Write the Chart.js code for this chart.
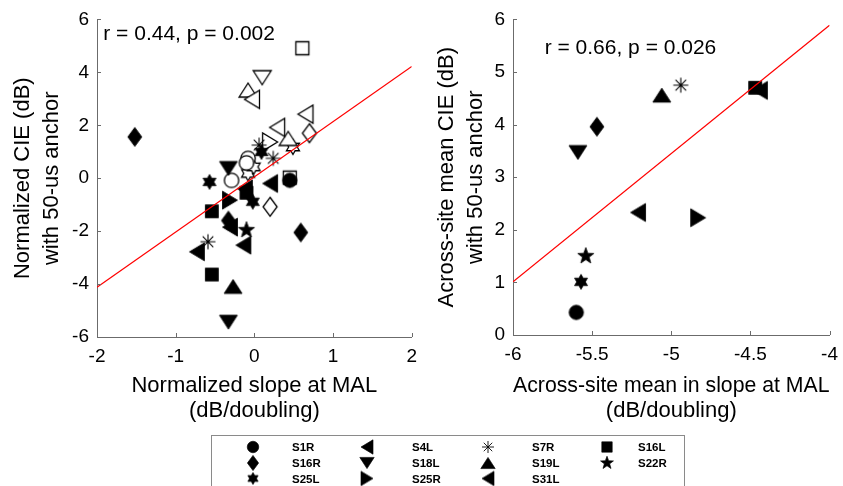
<!DOCTYPE html>
<html>
<head>
<meta charset="utf-8">
<script src="https://cdn.jsdelivr.net/npm/chart.js@4"></script>
<style>
  body { margin: 0; background: #fff; width: 843px; height: 486px; overflow: hidden; position: relative;
         font-family: "Liberation Sans", Arial, sans-serif; }
  #left { position: absolute; left: 0; top: 0; }
  #right { position: absolute; left: 420px; top: 0; }
  #legend { position: absolute; left: 211px; top: 435px; width: 474px; height: 70px; }
  #legendFrame { position: absolute; left: 0; top: 0; width: 474px; height: 70px; box-sizing: border-box;
                 border: 1.5px solid #8a8a8a; }
  #legendMarks { position: absolute; left: 0; top: 0; }
  .lab { position: absolute; font-weight: bold; font-size: 11.5px; line-height: 14px; color: #000; }
</style>
</head>
<body>
<canvas id="left" width="425" height="430"></canvas>
<canvas id="right" width="426" height="430"></canvas>
<div id="legend">
  <div id="legendFrame"></div>
  <canvas id="legendMarks" width="474" height="70"></canvas>
</div>
<script>
// subjects (legend order)
const subjects = ['S1R', 'S4L', 'S7R', 'S16L', 'S16R', 'S18L', 'S19L', 'S22R', 'S25L', 'S25R', 'S31L'];

// left panel: individual sites, filled markers
const siteSubject = ['S1R', 'S4L', 'S4L', 'S4L', 'S31L', 'S31L', 'S7R', 'S7R', 'S7R', 'S16L', 'S16L', 'S16L',
                     'S16R', 'S16R', 'S16R', 'S18L', 'S18L', 'S19L', 'S22R', 'S25L', 'S25L', 'S25L', 'S25R'];
const siteSlope = [0.45, 0.20, -0.14, -0.73, -0.12, -0.31, 0.06, 0.24, -0.59, -0.54, -0.54, -0.10,
                   -1.52, 0.59, -0.33, -0.33, -0.33, -0.27, -0.10, -0.57, -0.02, 0.09, -0.31];
const siteCIE = [-0.08, -0.20, -2.53, -2.78, -0.40, -1.85, 1.25, 0.75, -2.40, -1.25, -3.64, -0.55,
                 1.56, -2.05, -1.60, 0.37, -5.44, -4.09, -1.96, -0.14, -0.89, 0.99, -0.83];

// left panel: open markers
const openSubject = ['S16L', 'S16L', 'S18L', 'S19L', 'S19L', 'S4L', 'S4L', 'S31L', 'S16R', 'S16R', 'S25R',
                     'S25L', 'S25L', 'S25L', 'S1R', 'S1R', 'S1R'];
const openSlope = [0.61, 0.45, 0.10, -0.08, 0.43, -0.03, 0.29, 0.65, 0.70, 0.20, 0.20,
                   0.49, -0.08, -0.01, -0.08, -0.10, -0.29];
const openCIE = [4.91, 0.02, 3.80, 3.33, 1.50, 2.98, 1.92, 2.42, 1.70, -1.08, 1.37,
                 1.18, 0.18, 0.43, 0.75, 0.58, -0.08];

// right panel: across-site means, one per subject
const meanSlope = [-5.60, -5.21, -4.94, -4.47, -5.47, -5.59, -5.06, -5.54, -5.57, -4.83, -4.44];
const meanCIE = [0.43, 2.33, 4.75, 4.70, 3.96, 3.47, 4.56, 1.50, 1.01, 2.23, 4.65];

// regression lines
const fitLeftX = [-2, 2];
const fitLeftY = [-4.12, 4.22];
const fitRightX = [-6, -4];
const fitRightY = [1.01, 5.89];

// ticks
const leftXTicks = [-2, -1, 0, 1, 2];
const leftYTicks = [-6, -4, -2, 0, 2, 4, 6];
const rightXTicks = [-6, -5.5, -5, -4.5, -4];
const rightYTicks = [0, 1, 2, 3, 4, 5, 6];

const statLeft = 'r = 0.44, p = 0.002';
const statRight = 'r = 0.66, p = 0.026';

const shapeOf = { S1R: 'circle', S4L: 'triLeft', S7R: 'asterisk', S16L: 'square', S16R: 'diamond',
                  S18L: 'triDown', S19L: 'triUp', S22R: 'star5', S25L: 'star6', S25R: 'triRight', S31L: 'triLeft' };

const FONT = '"Liberation Sans", Arial, sans-serif';
const axisGrey = '#6b6b6b';
Chart.defaults.font.family = FONT;

function starPath(ctx, n, outer, inner) {
  for (let i = 0; i < n * 2; i++) {
    const r = i % 2 ? inner : outer;
    const a = -Math.PI / 2 + i * Math.PI / n;
    const px = r * Math.cos(a), py = r * Math.sin(a);
    i ? ctx.lineTo(px, py) : ctx.moveTo(px, py);
  }
  ctx.closePath();
}

function makeMarker(shape, filled, k = 1) {
  const size = 2 * Math.ceil(12 * k);
  const c = document.createElement('canvas');
  c.width = c.height = size;
  const ctx = c.getContext('2d');
  ctx.translate(size / 2, size / 2);
  ctx.scale(k, k);
  ctx.beginPath();
  switch (shape) {
    case 'circle': ctx.arc(0, 0, 7.2, 0, Math.PI * 2); break;
    case 'square': ctx.rect(-6.5, -6.5, 13, 13); break;
    case 'diamond': ctx.moveTo(0, -9.5); ctx.lineTo(7, 0); ctx.lineTo(0, 9.5); ctx.lineTo(-7, 0); ctx.closePath(); break;
    case 'triUp': ctx.moveTo(0, -7); ctx.lineTo(9, 7); ctx.lineTo(-9, 7); ctx.closePath(); break;
    case 'triDown': ctx.moveTo(0, 7); ctx.lineTo(9, -7); ctx.lineTo(-9, -7); ctx.closePath(); break;
    case 'triLeft': ctx.moveTo(-7.5, 0); ctx.lineTo(7.5, -9); ctx.lineTo(7.5, 9); ctx.closePath(); break;
    case 'triRight': ctx.moveTo(7.5, 0); ctx.lineTo(-7.5, -9); ctx.lineTo(-7.5, 9); ctx.closePath(); break;
    case 'star5': starPath(ctx, 5, 8.5, 3.5); break;
    case 'star6': starPath(ctx, 6, 7.5, 4.3); break;
    case 'asterisk':
      for (let i = 0; i < 4; i++) {
        const a = i * Math.PI / 4;
        ctx.moveTo(-7.5 * Math.cos(a), -7.5 * Math.sin(a));
        ctx.lineTo(7.5 * Math.cos(a), 7.5 * Math.sin(a));
      }
      break;
  }
  ctx.strokeStyle = '#000';
  ctx.lineWidth = shape === 'asterisk' ? 1.1 : (filled ? 0.8 : 1.3);
  if (shape !== 'asterisk') {
    ctx.fillStyle = filled ? '#000' : '#fff';
    ctx.fill();
  }
  ctx.stroke();
  return c;
}

function groupPoints(names, xs, ys, filled) {
  return subjects.map(s => ({
    label: s,
    data: names.map((n, i) => (n === s ? { x: xs[i], y: ys[i] } : null)).filter(Boolean),
    pointStyle: makeMarker(shapeOf[s], filled),
    pointRadius: 8,
    pointHoverRadius: 8,
    order: filled ? 2 : 3
  })).filter(d => d.data.length);
}

function fitLine(xs, ys) {
  return {
    label: 'fit',
    data: xs.map((x, i) => ({ x, y: ys[i] })),
    showLine: true,
    borderColor: '#ff0000',
    borderWidth: 1.2,
    pointRadius: 0,
    order: 0
  };
}

// inward tick marks and r/p text
const axisDecor = {
  id: 'axisDecor',
  afterDraw(chart, args, opts) {
    const { ctx, scales: { x, y } } = chart;
    ctx.save();
    ctx.strokeStyle = axisGrey;
    ctx.lineWidth = 1;
    ctx.beginPath();
    x.ticks.forEach(t => {
      const px = Math.round(x.getPixelForValue(t.value)) + 0.5;
      ctx.moveTo(px, y.bottom);
      ctx.lineTo(px, y.bottom - 4);
    });
    y.ticks.forEach(t => {
      const py = Math.round(y.getPixelForValue(t.value)) + 0.5;
      ctx.moveTo(x.left, py);
      ctx.lineTo(x.left + 4, py);
    });
    ctx.stroke();
    ctx.fillStyle = '#000';
    ctx.font = '21px ' + FONT;
    ctx.textBaseline = 'middle';
    ctx.textAlign = 'left';
    ctx.fillText(opts.text, x.getPixelForValue(opts.at[0]), y.getPixelForValue(opts.at[1]));
    ctx.restore();
  }
};
Chart.register(axisDecor);

function options(cfg) {
  const tickFont = { size: 19 };
  return {
    responsive: false,
    animation: false,
    events: [],
    layout: { padding: { top: cfg.top, right: 0, left: 0, bottom: 0 } },
    plugins: {
      legend: { display: false },
      tooltip: { enabled: false },
      axisDecor: { text: cfg.stat, at: cfg.statAt }
    },
    scales: {
      x: {
        type: 'linear', min: cfg.xTicks[0], max: cfg.xTicks[cfg.xTicks.length - 1],
        afterBuildTicks: s => { s.ticks = cfg.xTicks.map(v => ({ value: v })); },
        afterFit: s => { s.height = cfg.xH; },
        grid: { display: false, drawTicks: false },
        border: { display: true, color: axisGrey, width: 1 },
        ticks: { color: '#000', font: tickFont, padding: 8, maxRotation: 0, autoSkip: false, callback: v => String(v) },
        title: { display: true, text: cfg.xTitle, color: '#000', font: { size: 22, lineHeight: 1.15 }, padding: { top: 0, bottom: 6 } }
      },
      y: {
        type: 'linear', min: cfg.yTicks[0], max: cfg.yTicks[cfg.yTicks.length - 1],
        afterBuildTicks: s => { s.ticks = cfg.yTicks.map(v => ({ value: v })); },
        afterFit: s => { s.width = cfg.yW; },
        grid: { display: false, drawTicks: false },
        border: { display: true, color: axisGrey, width: 1 },
        ticks: { color: '#000', font: tickFont, padding: 8, autoSkip: false, callback: v => String(v) },
        title: { display: true, text: cfg.yTitle, color: '#000', font: { size: 22, lineHeight: 1.3 }, padding: { top: cfg.yTitlePad, bottom: 0 } }
      }
    }
  };
}

new Chart(document.getElementById('left'), {
  type: 'scatter',
  data: {
    datasets: [fitLine(fitLeftX, fitLeftY)]
      .concat(groupPoints(siteSubject, siteSlope, siteCIE, true))
      .concat(groupPoints(openSubject, openSlope, openCIE, false))
  },
  options: options({
    top: 19, xH: 93, yW: 97, yTitlePad: 9,
    xTicks: leftXTicks, yTicks: leftYTicks,
    xTitle: ['Normalized slope at MAL', '(dB/doubling)'],
    yTitle: ['Normalized CIE (dB)', 'with 50-us anchor'],
    stat: statLeft, statAt: [-1.92, 5.45]
  })
});

new Chart(document.getElementById('right'), {
  type: 'scatter',
  data: {
    datasets: [fitLine(fitRightX, fitRightY)]
      .concat(groupPoints(subjects, meanSlope, meanCIE, true))
  },
  options: options({
    top: 18, xH: 95, yW: 93, yTitlePad: 13,
    xTicks: rightXTicks, yTicks: rightYTicks,
    xTitle: ['Across-site mean in slope at MAL', '(dB/doubling)'],
    yTitle: ['Across-site mean CIE (dB)', 'with 50-us anchor'],
    stat: statRight, statAt: [-5.80, 5.46]
  })
});

// legend: 4 columns, row-major
const legendMarkX = [42, 156, 277, 396];
const legendLabX = [81, 201, 321, 427];
const legendRowY = [12, 28, 43.5];
const lctx = document.getElementById('legendMarks').getContext('2d');
const legendBox = document.getElementById('legend');
subjects.forEach((s, i) => {
  const col = i % 4, row = Math.floor(i / 4);
  const img = makeMarker(shapeOf[s], true, 0.8);
  lctx.drawImage(img, legendMarkX[col] - img.width / 2, legendRowY[row] - img.height / 2);
  const lab = document.createElement('div');
  lab.className = 'lab';
  lab.textContent = s;
  lab.style.left = legendLabX[col] + 'px';
  lab.style.top = (legendRowY[row] - 7) + 'px';
  legendBox.appendChild(lab);
});
</script>
</body>
</html>
